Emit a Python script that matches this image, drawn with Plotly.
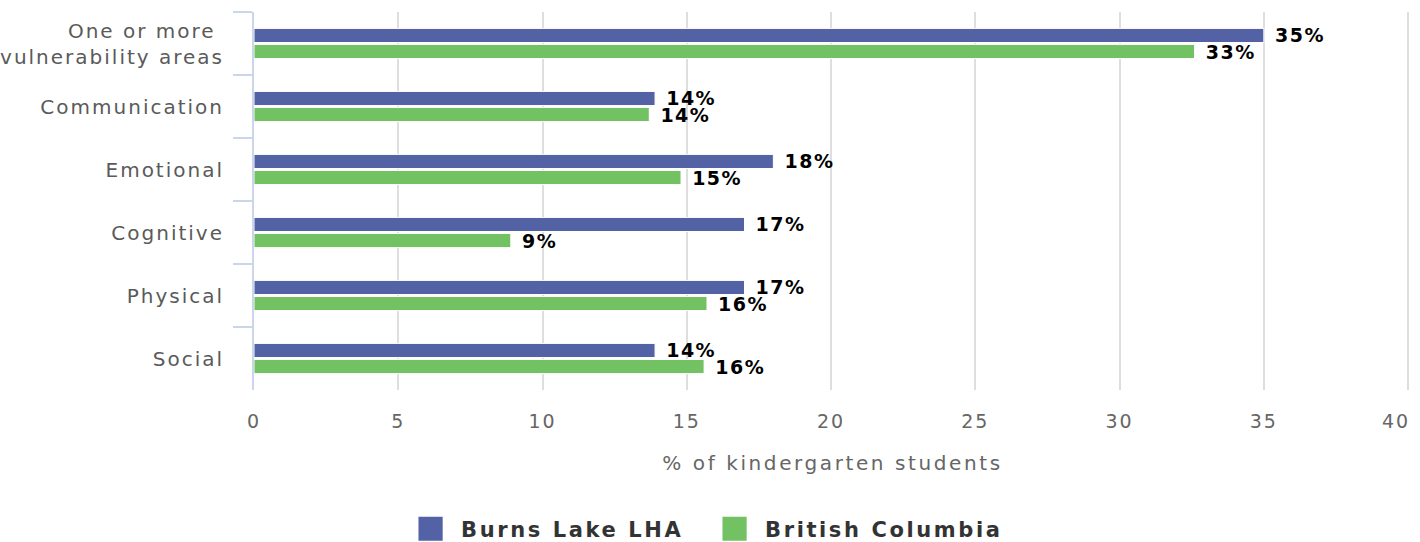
import plotly.graph_objects as go

categories = ["One or more <br>vulnerability areas", "Communication", "Emotional",
              "Cognitive", "Physical", "Social"]
burns_lake = [35.0, 13.9, 18.0, 17.0, 17.0, 13.9]
british_columbia = [32.6, 13.7, 14.8, 8.9, 15.7, 15.6]
x_ticks = [0, 5, 10, 15, 20, 25, 30, 35, 40]
x_tick_labels = ["0", "5", "10", "15", "20", "25", "30", "35", "40\u00a0\u00a0\u00a0"]

FONT = "DejaVu Sans"
BLUE = "#5262a5"
GREEN = "#72c162"

fig = go.Figure()
for name, vals, col in [("Burns Lake LHA", burns_lake, BLUE),
                        ("British Columbia", british_columbia, GREEN)]:
    fig.add_trace(go.Bar(
        y=categories, x=vals, name=name, orientation="h",
        marker=dict(color=col, line=dict(color="white", width=1)),
        texttemplate="\u00a0%{x:.0f}%", textposition="outside",
        textfont=dict(size=19, color="black", weight="bold"),
        constraintext="none", cliponaxis=False,
    ))

fig.update_layout(
    width=1420, height=542,
    margin=dict(l=254, r=9, t=12, b=152, autoexpand=False),
    paper_bgcolor="white", plot_bgcolor="white",
    barmode="group", bargap=0.49, bargroupgap=0.12,
    font=dict(family=FONT, size=20, color="#666666"),
    showlegend=True,
    legend=dict(orientation="h", x=0.389, xanchor="center", y=-0.368, yanchor="middle",
                font=dict(size=21, color="#333333", weight="bold"),
                itemwidth=51, entrywidth=238, entrywidthmode="pixels", traceorder="normal"),
    xaxis=dict(range=[0, 40.1], tickvals=x_ticks, ticktext=x_tick_labels,
               showgrid=True, gridcolor="#dedede", gridwidth=2,
               zeroline=False, showline=False, ticks="", ticklabelstandoff=18, automargin=False,
               ticklabeloverflow="allow",
               tickfont=dict(size=19, color="#666666"),
               title=dict(text="% of kindergarten students", standoff=24,
                          font=dict(size=20, color="#666666"))),
    yaxis=dict(autorange="reversed", showline=True, linecolor="#ccd6eb", linewidth=2,
               ticks="outside", tickson="boundaries", ticklen=19, tickcolor="#ccd6eb", tickwidth=2,
               showgrid=False, ticklabelstandoff=24, automargin=False,
               tickfont=dict(size=20, color="#5a5a5a")),
)

post = """
document.body.style.margin = '0';
var gd = document.getElementById('{plot_id}');
var s = document.createElement('style');
s.innerHTML = '.xtick text, .ytick text {letter-spacing:2px;} .g-xtitle text {letter-spacing:2.6px;} .legendtext {letter-spacing:2.6px;} .bartext {letter-spacing:1.5px;}';
document.head.appendChild(s);
var lay = gd.layout;
lay.font.family = 'DejaVu Sans, sans-serif';
Plotly.newPlot(gd, gd.data, lay, {displayModeBar: false}).then(function(){
  gd.querySelectorAll('.legendpoints path').forEach(function(p){
    var t = p.getAttribute('transform') || '';
    p.setAttribute('transform', t + ' scale(2.2)');
  });
});
"""
fig.write_html("out.html", post_script=post, config={"displayModeBar": False})
